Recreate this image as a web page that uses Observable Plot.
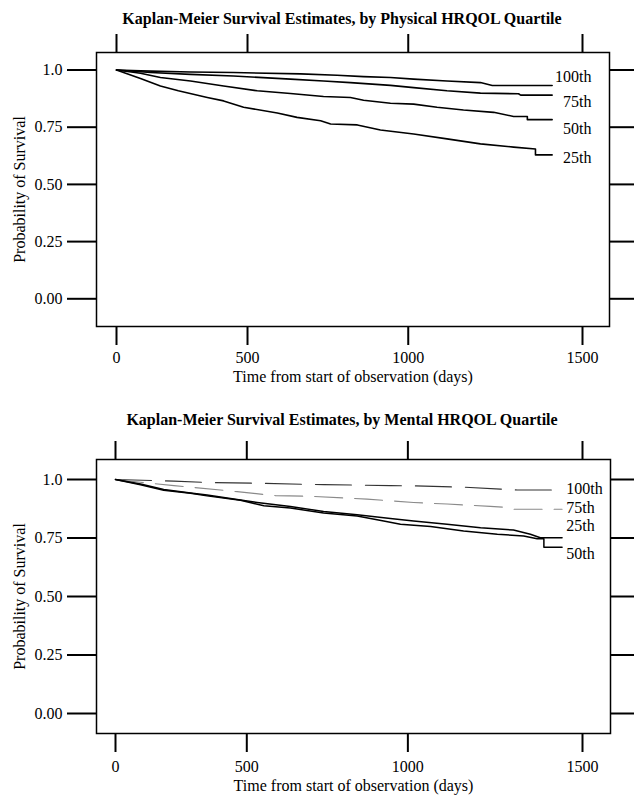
<!DOCTYPE html>
<html><head><meta charset="utf-8">
<script src="https://cdn.jsdelivr.net/npm/d3@7"></script>
<script src="https://cdn.jsdelivr.net/npm/@observablehq/plot@0.6"></script>
<style>
body{margin:0;background:#fff;}
#wrap{position:relative;width:634px;height:796px;font-family:"Liberation Serif","Times New Roman",serif;color:#000;}
.title{position:absolute;left:0;width:634px;text-align:center;font-weight:bold;font-size:16px;padding-left:50px;box-sizing:border-box;white-space:nowrap;}
.chart{position:absolute;left:0;}
</style></head><body>
<div id="wrap">
  <div class="title" style="top:6px;line-height:26px">Kaplan-Meier Survival Estimates, by Physical HRQOL Quartile</div>
  <div class="chart" id="c1" style="top:30px"></div>
  <div class="title" style="top:407px;line-height:26px">Kaplan-Meier Survival Estimates, by Mental HRQOL Quartile</div>
  <div class="chart" id="c2" style="top:437px"></div>
</div>
<script>
// ---- shared axis data ----
const xTicks = [0, 500, 1000, 1500];
const yTicks = [0, 0.25, 0.5, 0.75, 1];
const yTickLabels = ["0.00", "0.25", "0.50", "0.75", "1.0"];
const xTitle = "Time from start of observation (days)";
const yTitle = "Probability of Survival";
const quartiles = ["100th", "75th", "50th", "25th"];

// ---- Physical HRQOL (days, survival) ----
const phys100T = [0, 115, 305, 453, 671, 785, 866, 947, 1016, 1114, 1211, 1245, 1415];
const phys100S = [1, 0.996, 0.991, 0.989, 0.983, 0.977, 0.971, 0.967, 0.960, 0.952, 0.945, 0.932, 0.932];
const phys75T = [0, 156, 305, 453, 639, 743, 826, 947, 1016, 1114, 1211, 1320, 1326, 1415];
const phys75S = [1, 0.989, 0.981, 0.974, 0.960, 0.952, 0.945, 0.933, 0.923, 0.909, 0.899, 0.896, 0.890, 0.890];
const phys50T = [0, 115, 194, 305, 420, 532, 639, 743, 826, 866, 947, 1016, 1085, 1162, 1249, 1306, 1345, 1345, 1415];
const phys50S = [1, 0.986, 0.967, 0.952, 0.930, 0.909, 0.897, 0.884, 0.880, 0.868, 0.855, 0.851, 0.837, 0.825, 0.815, 0.797, 0.797, 0.783, 0.783];
const phys25T = [0, 115, 194, 261, 364, 420, 487, 597, 660, 734, 765, 847, 917, 1016, 1114, 1211, 1306, 1368, 1368, 1415];
const phys25S = [1, 0.963, 0.930, 0.909, 0.880, 0.865, 0.837, 0.812, 0.793, 0.778, 0.764, 0.760, 0.738, 0.720, 0.699, 0.677, 0.663, 0.655, 0.629, 0.629];

// ---- Mental HRQOL (days, survival) ----
const ment100T = [0, 248, 366, 534, 745, 948, 1017, 1163, 1269, 1317, 1443];
const ment100S = [1, 0.993, 0.987, 0.984, 0.978, 0.974, 0.973, 0.967, 0.959, 0.955, 0.955];
const ment75T = [0, 119, 248, 468, 593, 709, 878, 948, 1017, 1115, 1240, 1288, 1306, 1443];
const ment75S = [1, 0.988, 0.974, 0.948, 0.931, 0.928, 0.916, 0.909, 0.902, 0.895, 0.885, 0.881, 0.873, 0.873];
const ment25T = [0, 119, 210, 308, 366, 479, 534, 641, 745, 848, 948, 1017, 1115, 1212, 1306, 1354, 1382, 1443];
const ment25S = [1, 0.981, 0.957, 0.942, 0.934, 0.912, 0.902, 0.885, 0.863, 0.849, 0.833, 0.823, 0.809, 0.794, 0.784, 0.766, 0.751, 0.751];
const ment50T = [0, 119, 210, 308, 366, 479, 556, 641, 745, 848, 928, 978, 1067, 1163, 1260, 1335, 1373, 1392, 1392, 1443];
const ment50S = [1, 0.978, 0.954, 0.941, 0.930, 0.911, 0.888, 0.878, 0.857, 0.844, 0.823, 0.809, 0.799, 0.780, 0.766, 0.759, 0.747, 0.747, 0.711, 0.711];

// ---- curve label placement (annotation, in data units) ----
const physLabelOrder = ["100th", "75th", "50th", "25th"];
const physLabelS = [0.9716, 0.862, 0.744, 0.618];
const physLabelT = 1525;
const mentLabelOrder = ["100th", "75th", "25th", "50th"];
const mentLabelS = [0.9615, 0.880, 0.803, 0.684];
const mentLabelT = 1455;

const rows = (T, S, q) => T.map((t, i) => ({t, s: S[i], q}));
const font = "'Liberation Serif','Times New Roman',serif";

function basePlot(marks, opts) {
  return Plot.plot({
    width: 634,
    height: opts.height,
    marginTop: 22,
    marginBottom: opts.height - 296,
    marginLeft: 96,
    marginRight: opts.marginRight,
    style: {fontFamily: font, fontSize: "16px", background: "transparent", color: "black", overflow: "visible"},
    x: {type: "pow", exponent: 1.155, domain: [0, 1500], range: opts.xRange},
    y: {domain: [0, 1], range: opts.yRange},
    marks: [
      Plot.frame({stroke: "black", strokeWidth: 1.5}),
      Plot.axisX(xTicks, {anchor: "bottom", tickSize: 19, tickPadding: opts.xPad, strokeWidth: 2,
        tickFormat: d => String(d), label: xTitle, labelAnchor: "center", labelArrow: "none", labelOffset: opts.xLabelOffset}),
      Plot.axisX(xTicks, {anchor: "top", tickSize: 19, strokeWidth: 2, tickFormat: () => "", label: null}),
      Plot.axisY(yTicks, {anchor: "left", tickSize: 29, tickPadding: 5, strokeWidth: 2,
        tickFormat: d => yTickLabels[yTicks.indexOf(d)], label: yTitle, labelAnchor: "center", labelArrow: "none", labelOffset: 83}),
      Plot.axisY(yTicks, {anchor: "right", tickSize: 25, strokeWidth: 2, tickFormat: () => "", label: null}),
      ...marks
    ]
  });
}

// Physical chart
const physData = [
  ...rows(phys100T, phys100S, "100th"),
  ...rows(phys75T, phys75S, "75th"),
  ...rows(phys50T, phys50S, "50th"),
  ...rows(phys25T, phys25S, "25th")
];
const physLabels = physLabelOrder.map((q, i) => ({q, s: physLabelS[i], t: physLabelT}));
document.getElementById("c1").append(basePlot([
  Plot.line(physData, {x: "t", y: "s", z: "q", stroke: "black", strokeWidth: 1.6}),
  Plot.text(physLabels, {x: "t", y: "s", text: "q", textAnchor: "end", fontSize: 16, fill: "black"})
], {height: 375, marginRight: 25, xRange: [116, 582], yRange: [268.3, 39.5], xPad: 6, xLabelOffset: 55}));

// Mental chart
const mentLabels = mentLabelOrder.map((q, i) => ({q, s: mentLabelS[i], t: mentLabelT}));
document.getElementById("c2").append(basePlot([
  Plot.line(rows(ment100T, ment100S, "100th"), {x: "t", y: "s", stroke: "#333", strokeWidth: 1.1, strokeDasharray: "36,14"}),
  Plot.line(rows(ment75T, ment75S, "75th"), {x: "t", y: "s", stroke: "#8a8a8a", strokeWidth: 1.1, strokeDasharray: "28,12"}),
  Plot.line(rows(ment25T, ment25S, "25th"), {x: "t", y: "s", stroke: "black", strokeWidth: 1.5}),
  Plot.line(rows(ment50T, ment50S, "50th"), {x: "t", y: "s", stroke: "black", strokeWidth: 1.5}),
  Plot.text(mentLabels, {x: "t", y: "s", text: "q", textAnchor: "start", fontSize: 16, fill: "black"})
], {height: 359, marginRight: 24, xRange: [115, 582], yRange: [276, 42], xPad: 8, xLabelOffset: 57}));
</script>
</body></html>
